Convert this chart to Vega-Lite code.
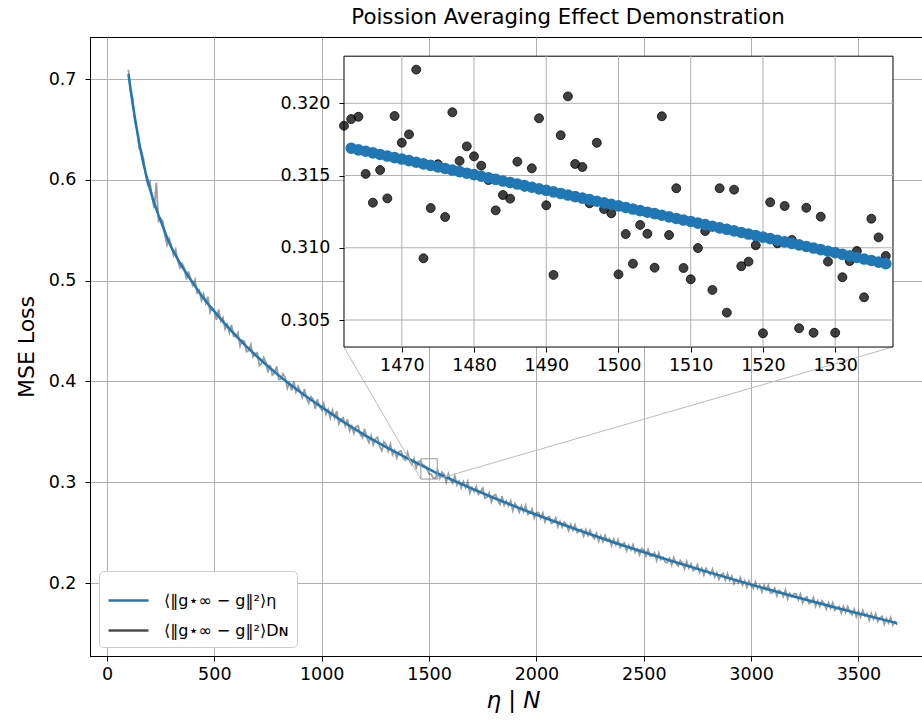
{
  "$schema": "https://vega.github.io/schema/vega-lite/v6.json",
  "autosize": {"type": "none"},
  "width": 846,
  "height": 619,
  "padding": {"left": 90, "top": 37, "right": 0, "bottom": 69},
  "background": "white",
  "title": {"text": "Poission Averaging Effect Demonstration", "fontSize": 21.3, "font": "DejaVu Sans", "fontWeight": "normal", "anchor": "middle", "offset": 9, "dx": 55, "color": "black"},
  "config": {
    "font": "DejaVu Sans",
    "view": {"stroke": "black", "strokeWidth": 1},
    "axis": {"labelFont": "DejaVu Sans", "labelFontSize": 17.5, "labelColor": "black", "tickColor": "black", "tickSize": 5, "tickWidth": 1, "domainColor": "black", "gridColor": "#b0b0b0", "gridWidth": 1, "titleFont": "DejaVu Sans", "titleColor": "black", "titleFontWeight": "normal"},
    "axisX": {"labelPadding": 4},
    "axisY": {"labelPadding": 9}
  },
  "datasets": {
    "smooth": [
      {"n": 100, "v": 0.705}, {"n": 110, "v": 0.690}, {"n": 120, "v": 0.675}, {"n": 130, "v": 0.662}, {"n": 140, "v": 0.649},
      {"n": 150, "v": 0.637}, {"n": 160, "v": 0.626}, {"n": 170, "v": 0.616}, {"n": 180, "v": 0.607}, {"n": 190, "v": 0.599},
      {"n": 200, "v": 0.591}, {"n": 220, "v": 0.577}, {"n": 240, "v": 0.565}, {"n": 260, "v": 0.554}, {"n": 280, "v": 0.5425},
      {"n": 300, "v": 0.533}, {"n": 325, "v": 0.523}, {"n": 350, "v": 0.514}, {"n": 375, "v": 0.5055}, {"n": 400, "v": 0.498},
      {"n": 433, "v": 0.4874}, {"n": 466, "v": 0.478}, {"n": 500, "v": 0.4695}, {"n": 550, "v": 0.457}, {"n": 600, "v": 0.4455},
      {"n": 650, "v": 0.4345}, {"n": 700, "v": 0.4245}, {"n": 750, "v": 0.415}, {"n": 800, "v": 0.406}, {"n": 850, "v": 0.3975},
      {"n": 900, "v": 0.3895}, {"n": 950, "v": 0.3818}, {"n": 1000, "v": 0.3745}, {"n": 1100, "v": 0.3600}, {"n": 1200, "v": 0.3468},
      {"n": 1300, "v": 0.3348}, {"n": 1400, "v": 0.3236}, {"n": 1462, "v": 0.3170}, {"n": 1500, "v": 0.3129}, {"n": 1537, "v": 0.3089},
      {"n": 1600, "v": 0.3030}, {"n": 1700, "v": 0.2936}, {"n": 1800, "v": 0.2846}, {"n": 1900, "v": 0.2760}, {"n": 2000, "v": 0.2677},
      {"n": 2200, "v": 0.2521}, {"n": 2400, "v": 0.2375}, {"n": 2600, "v": 0.2238}, {"n": 2800, "v": 0.2108}, {"n": 3000, "v": 0.1984},
      {"n": 3200, "v": 0.1866}, {"n": 3400, "v": 0.1753}, {"n": 3600, "v": 0.1644}, {"n": 3680, "v": 0.1602}
    ],
    "noisy": [
      {"n":100,"v":0.709},{"n":110,"v":0.687},{"n":120,"v":0.681},{"n":130,"v":0.657},{"n":140,"v":0.650},{"n":150,"v":0.631},{"n":160,"v":0.629},{"n":170,"v":0.621},{"n":180,"v":0.605},{"n":190,"v":0.595},
      {"n":200,"v":0.598},{"n":210,"v":0.583},{"n":220,"v":0.572},{"n":230,"v":0.597},{"n":240,"v":0.559},{"n":250,"v":0.5615},{"n":260,"v":0.559},{"n":270,"v":0.545},{"n":280,"v":0.5355},{"n":290,"v":0.5418},
      {"n":300,"v":0.534},{"n":310,"v":0.525},{"n":320,"v":0.531},{"n":330,"v":0.5192},{"n":340,"v":0.5126},{"n":350,"v":0.517},{"n":360,"v":0.5126},{"n":370,"v":0.5012},{"n":380,"v":0.509},{"n":390,"v":0.500},
      {"n":400,"v":0.495},{"n":410,"v":0.5008},{"n":420,"v":0.4876},{"n":430,"v":0.4904},{"n":440,"v":0.4804},{"n":450,"v":0.4866},{"n":460,"v":0.4777},{"n":470,"v":0.4840},{"n":480,"v":0.4685},{"n":490,"v":0.4730},
      {"n":500,"v":0.4705},{"n":510,"v":0.4610},{"n":520,"v":0.4715},{"n":530,"v":0.4600},{"n":540,"v":0.4635},{"n":550,"v":0.4520},{"n":560,"v":0.4567},{"n":570,"v":0.4484},{"n":580,"v":0.4561},{"n":590,"v":0.4448},
      {"n":600,"v":0.4445},{"n":610,"v":0.4483},{"n":620,"v":0.4351},{"n":630,"v":0.4409},{"n":640,"v":0.4397},{"n":650,"v":0.4295},{"n":660,"v":0.4305},{"n":670,"v":0.4365},{"n":680,"v":0.4245},{"n":690,"v":0.4275},
      {"n":700,"v":0.4285},{"n":710,"v":0.4156},{"n":720,"v":0.4177},{"n":730,"v":0.4238},{"n":740,"v":0.4189},{"n":750,"v":0.4090},{"n":760,"v":0.4162},{"n":770,"v":0.4064},{"n":780,"v":0.4086},{"n":790,"v":0.4148},
      {"n":800,"v":0.4020},{"n":810,"v":0.4023},{"n":820,"v":0.4076},{"n":830,"v":0.4039},{"n":840,"v":0.3932},{"n":850,"v":0.3985},{"n":860,"v":0.3909},{"n":870,"v":0.4003},{"n":880,"v":0.3897},{"n":890,"v":0.3951},
      {"n":900,"v":0.3905},{"n":910,"v":0.3840},{"n":920,"v":0.3924},{"n":930,"v":0.3829},{"n":940,"v":0.3783},{"n":950,"v":0.3848},{"n":960,"v":0.3823},{"n":970,"v":0.3729},{"n":980,"v":0.3824},{"n":990,"v":0.3750},
      {"n":1000,"v":0.3715},{"n":1010,"v":0.3781},{"n":1020,"v":0.3676},{"n":1030,"v":0.3722},{"n":1040,"v":0.3637},{"n":1050,"v":0.3713},{"n":1060,"v":0.3638},{"n":1070,"v":0.3704},{"n":1080,"v":0.3579},{"n":1090,"v":0.3625},
      {"n":1100,"v":0.3640},{"n":1110,"v":0.3557},{"n":1120,"v":0.3624},{"n":1130,"v":0.3510},{"n":1140,"v":0.3557},{"n":1150,"v":0.3484},{"n":1160,"v":0.3551},{"n":1170,"v":0.3558},{"n":1180,"v":0.3474},{"n":1190,"v":0.3441},
      {"n":1200,"v":0.3528},{"n":1210,"v":0.3446},{"n":1220,"v":0.3394},{"n":1230,"v":0.3462},{"n":1240,"v":0.3370},{"n":1250,"v":0.3428},{"n":1260,"v":0.3446},{"n":1270,"v":0.3354},{"n":1280,"v":0.3312},{"n":1290,"v":0.3400},
      {"n":1300,"v":0.3378},{"n":1310,"v":0.3307},{"n":1320,"v":0.3376},{"n":1330,"v":0.3274},{"n":1340,"v":0.3313},{"n":1350,"v":0.3242},{"n":1360,"v":0.3301},{"n":1370,"v":0.3310},{"n":1380,"v":0.3238},{"n":1390,"v":0.3217},
      {"n":1400,"v":0.3296},{"n":1410,"v":0.3215},{"n":1420,"v":0.3175},{"n":1430,"v":0.3234},{"n":1440,"v":0.3143},{"n":1450,"v":0.3203},{"n":1460,"v":0.3212},{"n":1470,"v":0.31727},{"n":1480,"v":0.31633},{"n":1490,"v":0.31294},
      {"n":1500,"v":0.30816},{"n":1510,"v":0.30782},{"n":1520,"v":0.30408},{"n":1530,"v":0.30412},{"n":1540,"v":0.3119},{"n":1550,"v":0.3040},{"n":1560,"v":0.3100},{"n":1570,"v":0.3080},{"n":1580,"v":0.3000},{"n":1590,"v":0.3080},
      {"n":1600,"v":0.3020},{"n":1610,"v":0.2991},{"n":1620,"v":0.3061},{"n":1630,"v":0.2972},{"n":1640,"v":0.3012},{"n":1650,"v":0.2943},{"n":1660,"v":0.3004},{"n":1670,"v":0.2944},{"n":1680,"v":0.3005},{"n":1690,"v":0.2895},
      {"n":1700,"v":0.2946},{"n":1710,"v":0.2907},{"n":1720,"v":0.2958},{"n":1730,"v":0.2879},{"n":1740,"v":0.2910},{"n":1750,"v":0.2941},{"n":1760,"v":0.2842},{"n":1770,"v":0.2853},{"n":1780,"v":0.2894},{"n":1790,"v":0.2805},
      {"n":1800,"v":0.2866},{"n":1810,"v":0.2877},{"n":1820,"v":0.2819},{"n":1830,"v":0.2780},{"n":1840,"v":0.2862},{"n":1850,"v":0.2773},{"n":1860,"v":0.2814},{"n":1870,"v":0.2766},{"n":1880,"v":0.2817},{"n":1890,"v":0.2719},
      {"n":1900,"v":0.2790},{"n":1910,"v":0.2762},{"n":1920,"v":0.2703},{"n":1930,"v":0.2765},{"n":1940,"v":0.2707},{"n":1950,"v":0.2769},{"n":1960,"v":0.2680},{"n":1970,"v":0.2692},{"n":1980,"v":0.2734},{"n":1990,"v":0.2645},
      {"n":2000,"v":0.2697},{"n":2010,"v":0.2699},{"n":2020,"v":0.2641},{"n":2030,"v":0.2694},{"n":2040,"v":0.2606},{"n":2050,"v":0.2648},{"n":2060,"v":0.2660},{"n":2070,"v":0.2592},{"n":2080,"v":0.2605},{"n":2090,"v":0.2647},
      {"n":2100,"v":0.2559},{"n":2110,"v":0.2611},{"n":2120,"v":0.2553},{"n":2130,"v":0.2606},{"n":2140,"v":0.2578},{"n":2150,"v":0.2520},{"n":2160,"v":0.2582},{"n":2170,"v":0.2524},{"n":2180,"v":0.2577},{"n":2190,"v":0.2499},
      {"n":2200,"v":0.2521},{"n":2210,"v":0.2534},{"n":2220,"v":0.2466},{"n":2230,"v":0.2529},{"n":2240,"v":0.2472},{"n":2250,"v":0.2525},{"n":2260,"v":0.2467},{"n":2270,"v":0.2440},{"n":2280,"v":0.2493},{"n":2290,"v":0.2415},
      {"n":2300,"v":0.2468},{"n":2310,"v":0.2411},{"n":2320,"v":0.2473},{"n":2330,"v":0.2416},{"n":2340,"v":0.2439},{"n":2350,"v":0.2372},{"n":2360,"v":0.2434},{"n":2370,"v":0.2377},{"n":2380,"v":0.2430},{"n":2390,"v":0.2352},
      {"n":2400,"v":0.2385},{"n":2410,"v":0.2398},{"n":2420,"v":0.2321},{"n":2430,"v":0.2374},{"n":2440,"v":0.2328},{"n":2450,"v":0.2381},{"n":2460,"v":0.2304},{"n":2470,"v":0.2337},{"n":2480,"v":0.2280},{"n":2490,"v":0.2343},
      {"n":2500,"v":0.2327},{"n":2510,"v":0.2270},{"n":2520,"v":0.2333},{"n":2530,"v":0.2266},{"n":2540,"v":0.2269},{"n":2550,"v":0.2302},{"n":2560,"v":0.2225},{"n":2570,"v":0.2299},{"n":2580,"v":0.2232},{"n":2590,"v":0.2255},
      {"n":2600,"v":0.2208},{"n":2610,"v":0.2202},{"n":2620,"v":0.2245},{"n":2630,"v":0.2179},{"n":2640,"v":0.2252},{"n":2650,"v":0.2196},{"n":2660,"v":0.2169},{"n":2670,"v":0.2223},{"n":2680,"v":0.2196},{"n":2690,"v":0.2140},
      {"n":2700,"v":0.2213},{"n":2710,"v":0.2147},{"n":2720,"v":0.2190},{"n":2730,"v":0.2124},{"n":2740,"v":0.2137},{"n":2750,"v":0.2181},{"n":2760,"v":0.2104},{"n":2770,"v":0.2148},{"n":2780,"v":0.2081},{"n":2790,"v":0.2145},
      {"n":2800,"v":0.2108},{"n":2810,"v":0.2082},{"n":2820,"v":0.2136},{"n":2830,"v":0.2059},{"n":2840,"v":0.2103},{"n":2850,"v":0.2037},{"n":2860,"v":0.2081},{"n":2870,"v":0.2095},{"n":2880,"v":0.2028},{"n":2890,"v":0.2092},
      {"n":2900,"v":0.2026},{"n":2910,"v":0.2070},{"n":2920,"v":0.1994},{"n":2930,"v":0.2037},{"n":2940,"v":0.2001},{"n":2950,"v":0.2055},{"n":2960,"v":0.1979},{"n":2970,"v":0.2023},{"n":2980,"v":0.1956},{"n":2990,"v":0.2020},
      {"n":3000,"v":0.1974},{"n":3010,"v":0.1948},{"n":3020,"v":0.2012},{"n":3030,"v":0.1946},{"n":3040,"v":0.1980},{"n":3050,"v":0.1914},{"n":3060,"v":0.1979},{"n":3070,"v":0.1933},{"n":3080,"v":0.1977},{"n":3090,"v":0.1901},
      {"n":3100,"v":0.1905},{"n":3110,"v":0.1949},{"n":3120,"v":0.1873},{"n":3130,"v":0.1927},{"n":3140,"v":0.1911},{"n":3150,"v":0.1865},{"n":3160,"v":0.1930},{"n":3170,"v":0.1844},{"n":3180,"v":0.1898},{"n":3190,"v":0.1862},
      {"n":3200,"v":0.1896},{"n":3210,"v":0.1890},{"n":3220,"v":0.1835},{"n":3230,"v":0.1889},{"n":3240,"v":0.1803},{"n":3250,"v":0.1848},{"n":3260,"v":0.1862},{"n":3270,"v":0.1796},{"n":3280,"v":0.1811},{"n":3290,"v":0.1855},
      {"n":3300,"v":0.1770},{"n":3310,"v":0.1824},{"n":3320,"v":0.1768},{"n":3330,"v":0.1823},{"n":3340,"v":0.1797},{"n":3350,"v":0.1741},{"n":3360,"v":0.1806},{"n":3370,"v":0.1750},{"n":3380,"v":0.1804},{"n":3390,"v":0.1729},
      {"n":3400,"v":0.1753},{"n":3410,"v":0.1768},{"n":3420,"v":0.1702},{"n":3430,"v":0.1767},{"n":3440,"v":0.1711},{"n":3450,"v":0.1766},{"n":3460,"v":0.1710},{"n":3470,"v":0.1685},{"n":3480,"v":0.1739},{"n":3490,"v":0.1664},
      {"n":3500,"v":0.1719},{"n":3510,"v":0.1663},{"n":3520,"v":0.1728},{"n":3530,"v":0.1672},{"n":3540,"v":0.1697},{"n":3550,"v":0.1631},{"n":3560,"v":0.1696},{"n":3570,"v":0.1640},{"n":3580,"v":0.1695},{"n":3590,"v":0.1619},
      {"n":3600,"v":0.1654},{"n":3610,"v":0.1669},{"n":3620,"v":0.1593},{"n":3630,"v":0.1648},{"n":3640,"v":0.1603},{"n":3650,"v":0.1658},{"n":3660,"v":0.1582},{"n":3670,"v":0.1617},{"n":3680,"v":0.1582}
    ],
    "box": [{"x1": 1462, "x2": 1538, "y1": 0.30313, "y2": 0.32326}],
    "connectors": [
      {"x1": 1462, "y1": 0.30313, "x2": 1103.4, "y2": 0.4341},
      {"x1": 1538, "y1": 0.30313, "x2": 3659, "y2": 0.4341}
    ],
    "igridx": [{"g": 1470}, {"g": 1480}, {"g": 1490}, {"g": 1500}, {"g": 1510}, {"g": 1520}, {"g": 1530}],
    "igridy": [{"g": 0.305}, {"g": 0.310}, {"g": 0.315}, {"g": 0.320}],
    "inset": [
      {"n": 1462, "dn": 0.31845, "eta": null}, {"n": 1463, "dn": 0.31891, "eta": 0.31689}, {"n": 1464, "dn": 0.31907, "eta": 0.31678},
      {"n": 1465, "dn": 0.31511, "eta": 0.31668}, {"n": 1466, "dn": 0.31312, "eta": 0.31657}, {"n": 1467, "dn": 0.31538, "eta": 0.31646},
      {"n": 1468, "dn": 0.31342, "eta": 0.31635}, {"n": 1469, "dn": 0.31912, "eta": 0.31624}, {"n": 1470, "dn": 0.31727, "eta": 0.31614},
      {"n": 1471, "dn": 0.31785, "eta": 0.31603}, {"n": 1472, "dn": 0.32233, "eta": 0.31592}, {"n": 1473, "dn": 0.30927, "eta": 0.31581},
      {"n": 1474, "dn": 0.31275, "eta": 0.31570}, {"n": 1475, "dn": 0.31578, "eta": 0.31560}, {"n": 1476, "dn": 0.31213, "eta": 0.31549},
      {"n": 1477, "dn": 0.31938, "eta": 0.31538}, {"n": 1478, "dn": 0.31601, "eta": 0.31527}, {"n": 1479, "dn": 0.31702, "eta": 0.31516},
      {"n": 1480, "dn": 0.31633, "eta": 0.31506}, {"n": 1481, "dn": 0.31568, "eta": 0.31495}, {"n": 1482, "dn": 0.31469, "eta": 0.31484},
      {"n": 1483, "dn": 0.31259, "eta": 0.31473}, {"n": 1484, "dn": 0.31365, "eta": 0.31462}, {"n": 1485, "dn": 0.31340, "eta": 0.31452},
      {"n": 1486, "dn": 0.31596, "eta": 0.31441}, {"n": 1487, "dn": 0.31423, "eta": 0.31430}, {"n": 1488, "dn": 0.31550, "eta": 0.31419},
      {"n": 1489, "dn": 0.31896, "eta": 0.31408}, {"n": 1490, "dn": 0.31294, "eta": 0.31398}, {"n": 1491, "dn": 0.30812, "eta": 0.31387},
      {"n": 1492, "dn": 0.31779, "eta": 0.31376}, {"n": 1493, "dn": 0.32048, "eta": 0.31365}, {"n": 1494, "dn": 0.31580, "eta": 0.31354},
      {"n": 1495, "dn": 0.31559, "eta": 0.31344}, {"n": 1496, "dn": 0.31308, "eta": 0.31333}, {"n": 1497, "dn": 0.31727, "eta": 0.31322},
      {"n": 1498, "dn": 0.31268, "eta": 0.31311}, {"n": 1499, "dn": 0.31239, "eta": 0.31300}, {"n": 1500, "dn": 0.30816, "eta": 0.31290},
      {"n": 1501, "dn": 0.31095, "eta": 0.31279}, {"n": 1502, "dn": 0.30890, "eta": 0.31268}, {"n": 1503, "dn": 0.31158, "eta": 0.31257},
      {"n": 1504, "dn": 0.31097, "eta": 0.31246}, {"n": 1505, "dn": 0.30862, "eta": 0.31236}, {"n": 1506, "dn": 0.31910, "eta": 0.31225},
      {"n": 1507, "dn": 0.31088, "eta": 0.31214}, {"n": 1508, "dn": 0.31412, "eta": 0.31203}, {"n": 1509, "dn": 0.30860, "eta": 0.31192},
      {"n": 1510, "dn": 0.30782, "eta": 0.31182}, {"n": 1511, "dn": 0.30998, "eta": 0.31171}, {"n": 1512, "dn": 0.31116, "eta": 0.31160},
      {"n": 1513, "dn": 0.30708, "eta": 0.31149}, {"n": 1514, "dn": 0.31412, "eta": 0.31138}, {"n": 1515, "dn": 0.30551, "eta": 0.31128},
      {"n": 1516, "dn": 0.31402, "eta": 0.31117}, {"n": 1517, "dn": 0.30872, "eta": 0.31106}, {"n": 1518, "dn": 0.30904, "eta": 0.31095},
      {"n": 1519, "dn": 0.31017, "eta": 0.31084}, {"n": 1520, "dn": 0.30408, "eta": 0.31074}, {"n": 1521, "dn": 0.31315, "eta": 0.31063},
      {"n": 1522, "dn": 0.31031, "eta": 0.31052}, {"n": 1523, "dn": 0.31289, "eta": 0.31041}, {"n": 1524, "dn": 0.31054, "eta": 0.31030},
      {"n": 1525, "dn": 0.30443, "eta": 0.31020}, {"n": 1526, "dn": 0.31277, "eta": 0.31009}, {"n": 1527, "dn": 0.30412, "eta": 0.30998},
      {"n": 1528, "dn": 0.31215, "eta": 0.30987}, {"n": 1529, "dn": 0.30904, "eta": 0.30976}, {"n": 1530, "dn": 0.30412, "eta": 0.30966},
      {"n": 1531, "dn": 0.30796, "eta": 0.30955}, {"n": 1532, "dn": 0.30908, "eta": 0.30944}, {"n": 1533, "dn": 0.30978, "eta": 0.30933},
      {"n": 1534, "dn": 0.30657, "eta": 0.30922}, {"n": 1535, "dn": 0.31201, "eta": 0.30912}, {"n": 1536, "dn": 0.31072, "eta": 0.30901},
      {"n": 1537, "dn": 0.30943, "eta": 0.30890}
    ]
  },
  "layer": [
    {
      "layer": [
        {
          "data": {"name": "noisy"},
          "mark": {"type": "line", "strokeWidth": 1.8, "opacity": 0.55},
          "encoding": {
            "x": {"field": "n", "type": "quantitative", "scale": {"domain": [-79, 3861], "nice": false, "zero": false},
                  "axis": {"values": [0, 500, 1000, 1500, 2000, 2500, 3000, 3500], "format": "d", "grid": true, "title": "η | N", "titleFontSize": 23, "titleFontStyle": "italic", "titlePadding": 7, "labelFlush": false, "labelOverlap": false}},
            "y": {"field": "v", "type": "quantitative", "scale": {"domain": [0.1276, 0.7417], "nice": false, "zero": false},
                  "axis": {"values": [0.2, 0.3, 0.4, 0.5, 0.6, 0.7], "format": ".1f", "grid": true, "title": "MSE Loss", "titleFontSize": 22, "titlePadding": 10, "labelFlush": false}},
            "color": {"datum": "⟨‖g⋆∞ − g‖²⟩Dɴ", "type": "nominal",
                      "scale": {"domain": ["⟨‖g⋆∞ − g‖²⟩η", "⟨‖g⋆∞ − g‖²⟩Dɴ"], "range": ["#1f77b4", "#4d4d4d"]},
                      "legend": {"orient": "bottom-left", "offset": 9, "title": null, "fillColor": "white", "strokeColor": "#cccccc", "cornerRadius": 4, "padding": 8, "symbolType": "stroke", "symbolSize": 1600, "symbolStrokeWidth": 2.5, "symbolOpacity": 1, "labelFontSize": 16, "labelOffset": 14, "rowPadding": 0, "labelFont": "DejaVu Sans", "labelColor": "black"}}
          }
        },
        {
          "data": {"name": "smooth"},
          "mark": {"type": "line", "strokeWidth": 2.5},
          "encoding": {
            "x": {"field": "n", "type": "quantitative"},
            "y": {"field": "v", "type": "quantitative"},
            "color": {"datum": "⟨‖g⋆∞ − g‖²⟩η", "type": "nominal"}
          }
        },
        {
          "data": {"name": "connectors"},
          "mark": {"type": "rule", "color": "#bbbbbb", "strokeWidth": 1},
          "encoding": {
            "x": {"field": "x1", "type": "quantitative"}, "x2": {"field": "x2"},
            "y": {"field": "y1", "type": "quantitative"}, "y2": {"field": "y2"}
          }
        },
        {
          "data": {"name": "box"},
          "mark": {"type": "rect", "fillOpacity": 0, "stroke": "#999999", "strokeWidth": 1},
          "encoding": {
            "x": {"field": "x1", "type": "quantitative"}, "x2": {"field": "x2"},
            "y": {"field": "y1", "type": "quantitative"}, "y2": {"field": "y2"}
          }
        }
      ]
    },
    {
      "layer": [
        {
          "data": {"name": "box"},
          "mark": {"type": "rect", "fill": "white", "stroke": "black", "strokeWidth": 1},
          "encoding": {
            "x": {"field": "x1", "type": "quantitative", "scale": {"domain": [1426.838, 1543.953], "nice": false, "zero": false},
                  "axis": {"orient": "bottom", "offset": -309, "values": [1470, 1480, 1490, 1500, 1510, 1520, 1530], "format": "d", "domain": false, "grid": false, "title": null, "labelFlush": false, "zindex": 1}},
            "x2": {"field": "x2"},
            "y": {"field": "y1", "type": "quantitative", "scale": {"domain": [0.281743, 0.324589], "nice": false, "zero": false},
                  "axis": {"orient": "left", "offset": -254, "values": [0.305, 0.31, 0.315, 0.32], "format": ".3f", "domain": false, "grid": false, "title": null, "labelFlush": false, "zindex": 1}},
            "y2": {"field": "y2"}
          }
        },
        {
          "data": {"name": "igridx"},
          "mark": {"type": "rule", "color": "#b0b0b0", "strokeWidth": 1},
          "encoding": {
            "x": {"field": "g", "type": "quantitative"},
            "y": {"datum": 0.30313, "type": "quantitative"}, "y2": {"datum": 0.32326}
          }
        },
        {
          "data": {"name": "igridy"},
          "mark": {"type": "rule", "color": "#b0b0b0", "strokeWidth": 1},
          "encoding": {
            "y": {"field": "g", "type": "quantitative"},
            "x": {"datum": 1462, "type": "quantitative"}, "x2": {"datum": 1538}
          }
        },
        {
          "data": {"name": "inset"},
          "mark": {"type": "circle", "size": 80, "color": "black", "fillOpacity": 0.75, "stroke": "black", "strokeOpacity": 0.75, "strokeWidth": 1},
          "encoding": {
            "x": {"field": "n", "type": "quantitative"},
            "y": {"field": "dn", "type": "quantitative"}
          }
        },
        {
          "data": {"name": "inset"},
          "transform": [{"filter": "datum.eta != null"}],
          "mark": {"type": "circle", "size": 135, "color": "#1f77b4", "opacity": 1},
          "encoding": {
            "x": {"field": "n", "type": "quantitative"},
            "y": {"field": "eta", "type": "quantitative"}
          }
        }
      ]
    }
  ],
  "resolve": {"scale": {"x": "independent", "y": "independent"}}
}
